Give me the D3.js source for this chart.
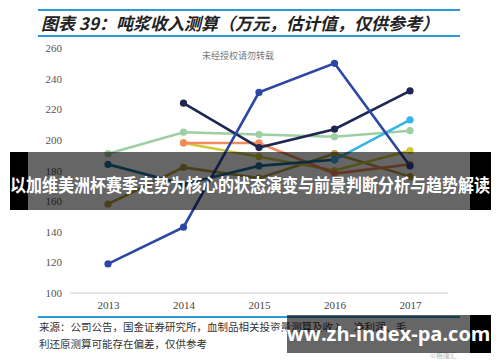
<!DOCTYPE html>
<html>
<head>
<meta charset="utf-8">
<script src="https://cdn.jsdelivr.net/npm/d3@7"></script>
<style>
  body { margin: 0; background: #fff; }
  svg { display: block; }
</style>
</head>
<body>
<div id="chart"></div>
<script>
// data
var years = ["2013", "2014", "2015", "2016", "2017"];
var yTicks = [100, 120, 140, 160, 180, 200, 220, 240, 260];

var blue   = [119, 143, 231, 250, 183];
var navy   = [null, 224, 195, 207, 232];
var green  = [191, 205, 203.5, 202, 206];
var orange = [null, 198, 198, 178, 184];
var yellow = [null, 198, 189, 180, 193];
var olive  = [158, 182, 175, 191, 176];
var teal   = [184, 171, 183, 187, null];
var cyan   = [null, null, null, 187, 213];

var series = [
    {vals: olive,  color: "#b79d3e"},
    {vals: yellow, color: "#d3c83c"},
    {vals: green,  color: "#9ccfa2"},
    {vals: orange, color: "#f28b5b"},
    {vals: teal,   color: "#1f6f9e"},
    {vals: cyan,   color: "#36b4e4"},
    {vals: navy,   color: "#1e2652"},
    {vals: blue,   color: "#2c46a6"}
];

var W = 500, H = 362;
var svg = d3.select("#chart").append("svg")
    .attr("width", W).attr("height", H);

// title block
svg.append("line").attr("x1", 38).attr("x2", 460).attr("y1", 10).attr("y2", 10)
    .attr("stroke", "#2a9bd5").attr("stroke-width", 2);
svg.append("line").attr("x1", 38).attr("x2", 460).attr("y1", 36).attr("y2", 36)
    .attr("stroke", "#2a9bd5").attr("stroke-width", 2);
svg.append("text").attr("x", 41).attr("y", 30)
    .attr("font-family", "Noto Sans CJK SC")
    .attr("font-size", 17).attr("font-style", "italic").attr("font-weight", "bold")
    .attr("fill", "#222")
    .text("图表 39：吨浆收入测算（万元，估计值，仅供参考）");

svg.append("text").attr("x", 238).attr("y", 59)
    .attr("text-anchor", "middle")
    .attr("font-family", "Noto Sans CJK SC").attr("font-size", 9).attr("fill", "#777")
    .text("未经授权请勿转载");

// scales
var x = d3.scalePoint().domain(years).range([108, 410]);
var y = d3.scaleLinear().domain([100, 260]).range([293, 48]);

// y axis labels
var yAxis = d3.axisLeft(y).tickValues(yTicks).tickSize(0).tickPadding(0);
var gy = svg.append("g").attr("transform", "translate(62,0)").call(yAxis);
gy.select(".domain").remove();
gy.selectAll("text").attr("font-family", "Liberation Serif").attr("font-size", 11).attr("fill", "#555");

// x axis
var xAxis = d3.axisBottom(x).tickSize(0).tickPadding(8);
var gx = svg.append("g").attr("transform", "translate(0,293)").call(xAxis);
gx.select(".domain").attr("d", "M70,0H448").attr("stroke", "#ccc");
gx.selectAll("text").attr("font-family", "Liberation Serif").attr("font-size", 11).attr("fill", "#444");

// lines
var line = d3.line()
    .defined(function(d) { return d != null; })
    .x(function(d, i) { return x(years[i]); })
    .y(function(d) { return y(d); });

series.forEach(function(s) {
    svg.append("path").datum(s.vals)
        .attr("d", line)
        .attr("fill", "none")
        .attr("stroke", s.color)
        .attr("stroke-width", 2.6);
    svg.selectAll(null)
        .data(s.vals.map(function(v, i) { return {v: v, i: i}; }).filter(function(d) { return d.v != null; }))
        .enter().append("circle")
        .attr("cx", function(d) { return x(years[d.i]); })
        .attr("cy", function(d) { return y(d.v); })
        .attr("r", 3.6)
        .attr("fill", s.color);
});

// bottom rule and source
svg.append("line").attr("x1", 38).attr("x2", 460).attr("y1", 317).attr("y2", 317)
    .attr("stroke", "#2a9bd5").attr("stroke-width", 2);
svg.append("text").attr("x", 39).attr("y", 331)
    .attr("font-family", "Noto Sans CJK SC").attr("font-size", 10.5).attr("fill", "#333")
    .text("来源：公司公告，国金证券研究所，血制品相关投资量测算及收入、净利润、毛");
svg.append("text").attr("x", 39).attr("y", 348)
    .attr("font-family", "Noto Sans CJK SC").attr("font-size", 10.5).attr("fill", "#333")
    .text("利还原测算可能存在偏差，仅供参考");
svg.append("text").attr("x", 457).attr("y", 358).attr("text-anchor", "end")
    .attr("font-family", "Noto Sans CJK SC").attr("font-size", 7).attr("fill", "#bbb")
    .text("©格隆汇");

// banner overlay
svg.append("rect").attr("x", 10).attr("y", 152).attr("width", 481).attr("height", 58)
    .attr("fill", "rgba(0,0,0,0.6)");
svg.append("rect").attr("x", 10).attr("y", 152).attr("width", 18).attr("height", 58).attr("fill", "#000");
svg.append("rect").attr("x", 470).attr("y", 152).attr("width", 21).attr("height", 58).attr("fill", "#000");
svg.append("text").attr("x", 250).attr("y", 192).attr("text-anchor", "middle")
    .attr("font-family", "Noto Sans CJK SC").attr("font-weight", "bold")
    .attr("font-size", 18.5).attr("fill", "#fff")
    .attr("textLength", 480).attr("lengthAdjust", "spacingAndGlyphs")
    .text("以加维美洲杯赛季走势为核心的状态演变与前景判断分析与趋势解读");

// watermark box
svg.append("rect").attr("x", 287).attr("y", 315).attr("width", 204).attr("height", 38)
    .attr("fill", "rgba(0,0,0,0.6)");
svg.append("rect").attr("x", 470).attr("y", 315).attr("width", 21).attr("height", 38).attr("fill", "#000");
svg.append("text").attr("x", 380).attr("y", 341).attr("text-anchor", "middle")
    .attr("font-family", "Open Sans").attr("font-weight", "bold")
    .attr("font-size", 20).attr("fill", "#fff")
    .text("www.zh-index-pa.com");
</script>
</body>
</html>
